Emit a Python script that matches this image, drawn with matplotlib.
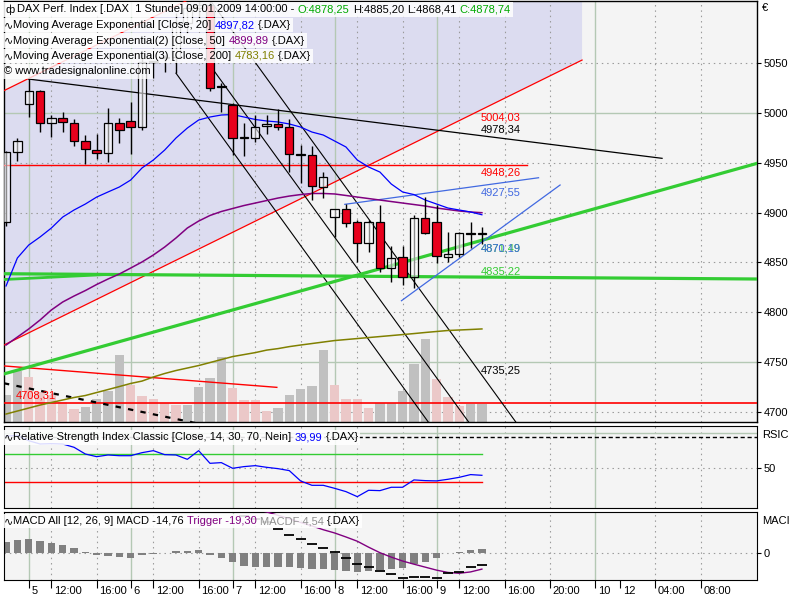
import numpy as np
import matplotlib
matplotlib.use("Agg")
import matplotlib.pyplot as plt
from matplotlib.patches import Rectangle, Polygon
from matplotlib.transforms import ScaledTranslation

plt.rcParams['font.family'] = ['Liberation Sans', 'DejaVu Sans']

# ------------------------------------------------------------------ data
bars = np.arange(43)
opens = [4890.2, 4960.5, 5009.0, 5022.1, 4990.0, 4994.7, 4990.0, 4971.9, 4963.1, 4959.4,
         4989.6, 4992.0, 4985.6, 5051.5, 5055.0, 5056.0, 5090.0, 5105.0, 5108.0, 5026.2,
         5008.0, 4974.6, 4974.6, 4986.9, 4989.0, 4985.6, 4957.8, 4957.8, 4926.0, 4895.9,
         4903.4, 4890.2, 4869.1, 4890.8, 4844.0, 4855.0, 4835.6, 4894.3, 4890.8, 4855.7,
         4858.1, 4879.5, 4878.25]
highs = [4961.8, 4974.6, 5034.8, 5023.0, 4998.0, 5001.3, 4994.0, 4977.9, 4978.6, 5004.7,
         4994.7, 5010.7, 5055.0, 5052.5, 5058.0, 5100.0, 5111.0, 5112.0, 5112.0, 5030.0,
         5009.7, 4990.0, 4998.5, 4998.0, 5003.7, 4993.7, 4967.9, 4966.9, 4941.0, 4904.0,
         4908.6, 4892.5, 4892.5, 4907.6, 4866.0, 4866.0, 4897.6, 4916.0, 4907.6, 4880.8,
         4880.8, 4890.8, 4885.20]
lows = [4886.5, 4951.8, 4996.3, 4981.2, 4976.2, 4981.2, 4967.2, 4948.5, 4953.5, 4951.1,
        4970.2, 4958.8, 4983.0, 5035.0, 5041.5, 5040.0, 5080.0, 5095.0, 5022.4, 5001.5,
        4957.8, 4956.8, 4971.2, 4979.0, 4983.0, 4941.0, 4929.4, 4912.4, 4915.0, 4875.0,
        4885.8, 4850.7, 4860.7, 4840.6, 4830.6, 4827.3, 4824.0, 4879.0, 4849.0, 4850.0,
        4855.7, 4864.0, 4868.41]
closes = [4960.5, 4971.9, 5022.1, 4990.0, 4994.7, 4990.6, 4971.9, 4963.8, 4959.8, 4989.6,
          4982.6, 4985.6, 5051.5, 5052.0, 5056.0, 5090.0, 5105.0, 5108.0, 5024.8, 5025.8,
          4974.6, 4974.6, 4986.2, 4989.0, 4985.6, 4958.6, 4957.8, 4926.6, 4936.0, 4903.7,
          4889.2, 4869.1, 4890.8, 4844.0, 4854.7, 4835.6, 4894.3, 4879.2, 4856.4, 4858.4,
          4879.2, 4879.0, 4878.74]

ema20 = [4826.3, 4854.4, 4867.4, 4875.5, 4884.5, 4895.5, 4902.6, 4908.6, 4915.6, 4920.7,
         4925.7, 4932.7, 4944.8, 4952.8, 4962.8, 4974.9, 4984.9, 4993.0, 4996.0, 4998.0,
         4998.5, 4996.0, 4993.5, 4992.0, 4991.0, 4989.0, 4985.9, 4980.9, 4977.9, 4971.9,
         4965.9, 4952.8, 4945.8, 4940.7, 4928.7, 4920.7, 4918.1, 4912.6, 4908.6, 4904.6,
         4902.6, 4900.6, 4897.82]
ema50 = [4767.0, 4775.0, 4783.1, 4792.1, 4802.2, 4810.2, 4816.2, 4821.7, 4827.8, 4833.3,
         4838.3, 4844.3, 4850.4, 4857.4, 4865.4, 4874.5, 4884.5, 4891.5, 4897.1, 4901.1,
         4904.1, 4907.1, 4909.6, 4912.1, 4914.6, 4916.6, 4918.1, 4919.2, 4919.2, 4918.7,
         4917.2, 4915.6, 4914.1, 4912.6, 4911.1, 4909.6, 4908.1, 4906.6, 4904.6, 4903.1,
         4901.6, 4900.6, 4899.89]
ema200 = [4697.7, 4700.7, 4703.7, 4706.7, 4709.3, 4711.8, 4714.3, 4716.3, 4719.3, 4722.3,
          4725.3, 4728.4, 4730.8, 4734.9, 4738.4, 4741.4, 4743.9, 4746.4, 4749.4, 4752.4,
          4755.4, 4757.4, 4759.4, 4761.9, 4763.4, 4765.4, 4767.0, 4768.5, 4770.0, 4771.5,
          4772.5, 4773.5, 4774.5, 4775.5, 4776.5, 4777.5, 4778.5, 4779.6, 4780.6, 4781.6,
          4782.1, 4782.6, 4783.16]

volume = [26.7, 50.7, 45.0, 30.0, 27.0, 20.0, 12.7, 14.7, 22.7, 30.5,
          66.7, 36.7, 25.7, 22.7, 19.0, 16.7, 16.7, 34.7, 43.7, 65.0,
          33.7, 21.7, 21.3, 10.7, 13.7, 26.7, 32.7, 35.7, 71.7, 36.7,
          22.7, 22.7, 13.7, 18.7, 18.7, 30.7, 57.7, 82.7, 42.7, 24.7,
          15.7, 17.7, 17.7]
volume_rising = [1, 1, 0, 0, 0, 0, 0, 1, 1, 1, 1, 0, 0, 0, 0, 0, 1, 1, 1, 1,
                 0, 0, 0, 0, 1, 1, 1, 1, 1, 0, 0, 0, 0, 1, 1, 1, 1, 1, 0, 0,
                 0, 1, 1]

rsi = [96.0, 97.0, 89.4, 84.7, 85.2, 84.7, 80.0, 70.4, 66.6, 69.0,
       68.0, 68.0, 72.3, 75.2, 69.5, 69.0, 62.8, 75.2, 57.1, 58.1,
       50.0, 52.4, 53.8, 51.4, 49.5, 46.7, 31.9, 25.7, 25.7, 21.4,
       16.7, 9.5, 18.6, 18.1, 22.9, 22.9, 33.4, 32.4, 32.0, 34.3,
       37.1, 41.0, 39.99]

macd = [62, 66, 70, 71, 71, 70, 68, 64, 61, 58, 56, 53, 53, 53, 53, 55, 56, 57, 55, 52,
        47.5, 43.5, 40.0, 36.5, 27.9, 20.8, 16.1, 10.2, 5.2, 0.35,
        -6.6, -13.3, -16.5, -21.5, -25.4, -29.4, -28.2, -28.2, -29.4, -24.2,
        -22.4, -17.2, -14.76]
trigger = [49, 51, 54, 57, 59, 61, 62, 63, 64, 62, 61, 59, 56, 54, 53, 53, 54, 54, 58, 58,
           58.0, 54.0, 51.0, 47.9, 44.0, 40.0, 35.5, 31.5, 27.0, 23.2,
           18.5, 13.5, 6.5, 0.0, -5.2, -9.8, -13.5, -17.0, -20.5, -23.2,
           -24.2, -22.6, -19.30]
macd_hist = [12.9, 14.9, 16.1, 13.8, 11.8, 9.1, 5.9, 0.8, -2.7, -3.9,
             -4.7, -5.9, -2.7, -1.2, -0.4, 1.5, 2.4, 3.2, -2.7, -5.9,
             -11.4, -15.6, -16.5, -16.5, -16.5, -16.8, -18.5, -19.2, -19.6, -20.4,
             -21.2, -22.4, -21.5, -20.4, -19.6, -18.5, -13.8, -11.4, -6.7, -0.4,
             1.2, 3.2, 4.54]

# drawn trend lines: (bar, price) anchors
channel_bars = [-0.18, 50.84]
channel_lower = [4767.0, 5053.2]
channel_width = 255.5
flat_black_bars, flat_black_prices = [2.0, 57.9], [5034.1, 4954.5]
steep_bars = [[15.0, 37.5], [18.0, 41.0], [18.0, 45.1]]
steep_prices = [[5040.0, 4686.0], [5048.0, 4687.0], [5113.5, 4688.0]]
red_level_a, red_level_a_end = 4948.26, 46.0
red_level_b = 4708.31
red_desc_bars, red_desc_prices = [-0.18, 23.9], [4746.0, 4724.5]
dash_bars, dash_prices = [-0.18, 17.0], [4728.6, 4688.0]
green_up_bars, green_up_prices = [-0.18, 66.3], [4738.0, 4949.5]
green_flat_bars, green_flat_prices = [-0.18, 66.3], [4838.6, 4833.3]
green_short_bars, green_short_prices = [-0.18, 9.0], [4832.8, 4837.9]
blue_upper_bars, blue_upper_prices = [29.9, 47.0], [4908.3, 4935.0]
blue_steep_bars, blue_steep_prices = [34.9, 48.9], [4811.5, 4927.7]

day_ticks = [2, 11, 20, 29, 38, 52]
day_labels = ['5', '6', '7', '8', '9', '10']
hour_ticks = [4, 8, 13, 17, 22, 26, 31, 35, 40, 44, 48, 57.3, 61.3]
hour_labels = ['12:00', '16:00', '12:00', '16:00', '12:00', '16:00', '12:00', '16:00',
               '12:00', '16:00', '20:00', '04:00', '08:00']
extra_ticks, extra_labels = [54.2], ['12']
price_ticks = [4700, 4750, 4800, 4850, 4900, 4950, 5000, 5050]

# ------------------------------------------------------------------ figure
W, H = 800, 600
fig = plt.figure(figsize=(8, 6), dpi=100)
fig.patch.set_facecolor('white')


def axes_px(l, t, r, b, z):
    return fig.add_axes([l / W, 1 - b / H, (r - l) / W, (b - t) / H], zorder=z)


XL = (-0.18, 66.28)
MAIN = (4, 1, 757, 421.7)
PANEL_BG = '#F4F4F4'
GRID_SOLID = '#B4C8B4'
GRID_DOT = '#9A9A9A'
DOT = (0, (1.3, 3.5))

ax_bg = axes_px(*MAIN, 0)
ax_vol = axes_px(*MAIN, 1)
ax = axes_px(*MAIN, 2)
ax_rsi = axes_px(4, 426, 757, 508, 2)
ax_macd = axes_px(4, 512.3, 757, 580, 2)

for a in (ax_bg, ax_vol, ax):
    a.set_xlim(*XL)
ax_bg.set_ylim(4690, 5112.5)
ax.set_ylim(4690, 5112.5)
ax_vol.set_ylim(0, 420.7)
for a in (ax_vol, ax):
    a.set_facecolor('none')
ax_vol.set_axis_off()
for s in ax_bg.spines.values():
    s.set_visible(False)
ax_bg.set_xticks([]); ax_bg.set_yticks([])
ax_bg.set_facecolor(PANEL_BG)


def vgrid(a):
    for d in day_ticks:
        a.axvline(d, color=GRID_SOLID, lw=1.0, zorder=0.5)
    for h in hour_ticks:
        a.axvline(h, color=GRID_DOT, lw=0.8, ls=DOT, zorder=0.5)


# channel fill
cx = np.array(channel_bars)
cl = np.array(channel_lower)
ax_bg.add_patch(Polygon([(cx[0], cl[0]), (cx[1], cl[1]), (cx[1], cl[1] + channel_width),
                         (cx[0], cl[0] + channel_width)], closed=True,
                        facecolor='#DCDCF0', edgecolor='none', zorder=0.2))
vgrid(ax_bg)
for p in price_ticks:
    if p in (5000, 4750):
        ax_bg.axhline(p, color=GRID_SOLID, lw=1.0, zorder=0.5)
    else:
        ax_bg.axhline(p, color=GRID_DOT, lw=0.8, ls=DOT, zorder=0.5)

# volume
vcol = ['#C0C0C0' if r else '#EBC8C8' for r in volume_rising]
ax_vol.bar(bars, volume, width=0.83, color=vcol, edgecolor='none')

# trend lines and indicators on main axes
ax.plot(cx, cl, color='#FF0000', lw=0.9, zorder=3)
ax.plot(cx, cl + channel_width, color='#FF0000', lw=0.9, zorder=3)
ax.plot([XL[0], red_level_a_end], [red_level_a] * 2, color='#FF0000', lw=1.0, zorder=3)
ax.plot(XL, [red_level_b] * 2, color='#FF0000', lw=1.2, zorder=3)
ax.plot(red_desc_bars, red_desc_prices, color='#FF0000', lw=1.0, zorder=3)
ax.plot(dash_bars, dash_prices, color='black', lw=1.6, ls=(0, (2.4, 3.3)), zorder=3)
ax.plot(flat_black_bars, flat_black_prices, color='black', lw=0.9, zorder=3)
for bx, py in zip(steep_bars, steep_prices):
    ax.plot(bx, py, color='black', lw=0.8, zorder=3)
ax.plot(green_up_bars, green_up_prices, color='#33CC33', lw=2.3, zorder=3)
ax.plot(green_flat_bars, green_flat_prices, color='#33CC33', lw=2.3, zorder=3)
ax.plot(green_short_bars, green_short_prices, color='#33CC33', lw=2.0, zorder=3)
ax.plot(blue_upper_bars, blue_upper_prices, color='#4169E1', lw=0.9, zorder=3)
ax.plot(blue_steep_bars, blue_steep_prices, color='#4169E1', lw=0.9, zorder=3)
ax.plot(bars, ema200, color='#808000', lw=1.1, zorder=3)
ax.plot(bars, ema50, color='#800080', lw=1.1, zorder=3)
ax.plot(bars, ema20, color='#0000FF', lw=0.9, zorder=3)

# candles
o = np.array(opens); c = np.array(closes); hi = np.array(highs); lo = np.array(lows)
ax.vlines(bars, lo, hi, color='black', lw=1.0, zorder=4)
up = c >= o
body_bottom = np.minimum(o, c)
body_h = np.maximum(np.abs(c - o), 0.9)
face = [(1, 1, 1, 0.55) if u else '#E8001C' for u in up]
ax.bar(bars, body_h, bottom=body_bottom, width=0.74, color=face, edgecolor='black',
       linewidth=0.9, zorder=5)

# value labels
lab_x = 41.9
value_labels = [("5004,03", 4996.0, '#FF0000'), ("4978,34", 4983.9, 'black'),
                ("4948,26", 4940.7, '#FF0000'), ("4927,55", 4920.2, '#4169E1'),
                ("4871,49", 4864.4, '#33CC33'), ("4870,19", 4864.4, '#4169E1'),
                ("4835,22", 4841.3, '#33CC33'), ("4735,25", 4741.9, 'black')]
for s, y, col in value_labels:
    ax.text(lab_x, y, s, color=col, fontsize=8, va='center', ha='left', zorder=6)
ax.text(0.9, 4716.3, "4708,31", color='#FF0000', fontsize=8, va='center', ha='left', zorder=6)

ax.yaxis.tick_right()
ax.set_yticks(price_ticks, [str(p) for p in price_ticks])
ax.tick_params(axis='y', direction='out', length=3, width=0.8, pad=2, labelsize=8)
ax.set_xticks([])
for s in ax.spines.values():
    s.set_linewidth(1.0)

# ------------------------------------------------------------------ RSI
ax_rsi.set_facecolor(PANEL_BG)
ax_rsi.set_xlim(*XL)
ax_rsi.set_ylim(-6.7, 110.4)
vgrid(ax_rsi)
ax_rsi.axhline(100, color=GRID_SOLID, lw=1.0, zorder=0.5)
ax_rsi.axhline(50, color=GRID_DOT, lw=0.8, ls=DOT, zorder=0.5)
ax_rsi.axhline(95, color='black', lw=1.0, ls=(0, (3, 2)), zorder=1)
ax_rsi.plot([XL[0], 42], [70, 70], color='#33CC33', lw=1.0)
ax_rsi.plot([XL[0], 42], [30, 30], color='#FF0000', lw=1.0)
ax_rsi.plot(bars, rsi, color='#0000FF', lw=0.9)
ax_rsi.yaxis.tick_right()
ax_rsi.set_yticks([50], ['50'])
ax_rsi.tick_params(axis='y', direction='out', length=3, width=0.8, pad=2, labelsize=8)
ax_rsi.set_xticks([])

# ------------------------------------------------------------------ MACD
ax_macd.set_facecolor(PANEL_BG)
ax_macd.set_xlim(*XL)
ax_macd.set_ylim(-32.1, 47.5)
vgrid(ax_macd)
ax_macd.axhline(0, color=GRID_DOT, lw=0.8, ls=DOT, zorder=0.5)
ax_macd.bar(bars, macd_hist, width=0.65, color='#808080', zorder=2)
ax_macd.plot(bars, trigger, color='#800080', lw=1.0, zorder=3)
ax_macd.plot(bars, macd, ls='none', marker='_', ms=6.5, mew=1.3, color='black', zorder=3)
ax_macd.yaxis.tick_right()
ax_macd.set_yticks([0], ['0'])
ax_macd.tick_params(axis='y', direction='out', length=3, width=0.8, pad=2, labelsize=8)
xt = day_ticks + hour_ticks + extra_ticks
xl = day_labels + hour_labels + extra_labels
ax_macd.set_xticks(xt, xl)
ax_macd.tick_params(axis='x', direction='out', length=6, width=0.8, pad=-2, labelsize=8)
off = ScaledTranslation(2 / 72, 0, fig.dpi_scale_trans)
for lbl in ax_macd.get_xticklabels():
    lbl.set_horizontalalignment('left')
    lbl.set_transform(lbl.get_transform() + off)

# ------------------------------------------------------------------ legend rows
renderer = fig.canvas.get_renderer()
SPACE = 3.1


def text_row(x_px, y_px, pieces, size=8, bg=True, alpha=0.86, h=14.5):
    x = x_px
    arts = []
    for s, col in pieces:
        if s.startswith(' '):
            x += SPACE
            s = s[1:]
        t = fig.text(x / W, 1 - y_px / H, s, color=col, fontsize=size, ha='left',
                     va='center', zorder=6)
        bb = t.get_window_extent(renderer)
        x = bb.x1
        arts.append(t)
    if bg:
        x0 = x_px - 2
        fig.add_artist(Rectangle((x0 / W, 1 - (y_px + h / 2) / H), (x + 2 - x0) / W, h / H,
                                 transform=fig.transFigure, facecolor='white', alpha=alpha,
                                 edgecolor='none', zorder=5))
    return arts


text_row(5, 9.5, [("ф", 'black'), (" DAX Perf. Index [.DAX  1 Stunde] 09.01.2009 14:00:00 -", 'black'),
                  (" O:4878,25", '#00AA00'), (" H:4885,20", 'black'),
                  (" L:4868,41", 'black'), (" C:4878,74", '#00AA00')])
text_row(4, 25.2, [("∿", 'black'), ("Moving Average Exponential [Close, 20]", 'black'),
                   (" 4897,82", '#0000FF'), (" {.DAX}", 'black')])
text_row(4, 40.6, [("∿", 'black'), ("Moving Average Exponential(2) [Close, 50]", 'black'),
                   (" 4899,89", '#800080'), (" {.DAX}", 'black')])
text_row(4, 56.0, [("∿", 'black'), ("Moving Average Exponential(3) [Close, 200]", 'black'),
                   (" 4783,16", '#808000'), (" {.DAX}", 'black')])
text_row(4, 71.4, [("© www.tradesignalonline.com", 'black')], alpha=0.75)
text_row(4, 437.5, [("∿", 'black'), ("Relative Strength Index Classic [Close, 14, 30, 70, Nein]", 'black'),
                    (" 39,99", '#0000FF'), (" {.DAX}", 'black')])
text_row(4, 521.0, [("∿", 'black'), ("MACD All [12, 26, 9] MACD -14,76", 'black'),
                    (" Trigger -19,30", '#800080'), (" MACDF 4,54", '#909090'),
                    (" {.DAX}", 'black')])

fig.text(762 / W, 1 - 8 / H, "€", fontsize=8, va='center', ha='left')
fig.text(762 / W, 1 - 435 / H, "RSIC", fontsize=8, va='center', ha='left')
fig.text(762 / W, 1 - 521 / H, "MACI", fontsize=8, va='center', ha='left')

fig.savefig("out.png", dpi=100, facecolor='white')
